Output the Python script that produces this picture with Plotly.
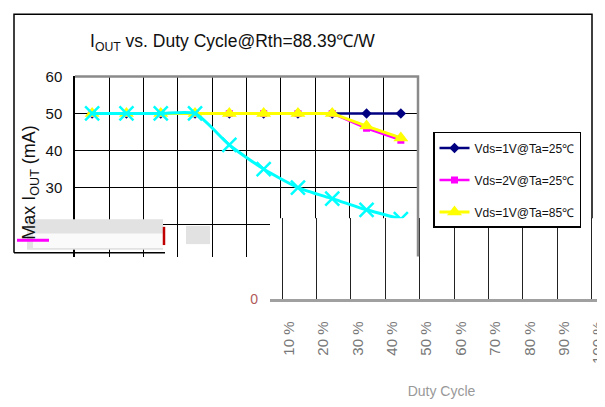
import plotly.graph_objects as go

W, H = 605, 407
OFF = 8  # page body margin offset

# ---- data ----
duty = ["10 %", "20 %", "30 %", "40 %", "50 %", "60 %", "70 %", "80 %", "90 %", "100 %"]
vds1_25 = [50, 50, 50, 50, 50, 50, 50, 50, 50, 50]
vds2_25 = [50, 50, 50, 50, 50, 50, 50, 50, 46.0, 42.8]
vds1_85 = [50, 50, 50, 50, 50, 50, 50, 50, 46.6, 43.4]
vds2_85 = [50, 50, 50, 50, 41.5, 35.0, 30.0, 27.0, 24.0, 21.5]
names = ["Vds=1V@Ta=25℃", "Vds=2V@Ta=25℃", "Vds=1V@Ta=85℃", "Vds=2V@Ta=85℃"]
y_ticks = [20, 30, 40, 50, 60]

idx = list(range(len(duty)))

def px(x):
    return (x - OFF) / W

def py(y):
    return (H - (y - OFF)) / H

SANS = "Liberation Sans, Arial, sans-serif"
UNIT = (302 - 70) / 60  # px per mA

fig = go.Figure()

fig.add_trace(go.Scatter(x=idx, y=vds1_25, name=names[0], mode="lines+markers",
                         line=dict(color="#000080", width=2.5),
                         marker=dict(symbol="diamond", size=8, color="#000080"),
                         legendgroup="a"))
fig.add_trace(go.Scatter(x=idx, y=vds2_25, name=names[1], mode="lines+markers",
                         line=dict(color="#FF00FF", width=2.5),
                         marker=dict(symbol="square", size=7, color="#FF00FF"),
                         legendgroup="b"))
fig.add_trace(go.Scatter(x=idx, y=vds1_85, name=names[2], mode="lines+markers",
                         line=dict(color="#FFFF00", width=3),
                         marker=dict(symbol="triangle-up", size=13, color="#FFFF00"),
                         legendgroup="c"))
fig.add_trace(go.Scatter(x=idx, y=vds2_85, name=names[3], mode="lines+markers",
                         line=dict(color="#00FFFF", width=3, shape="spline", smoothing=0.6),
                         marker=dict(symbol="x-thin", size=14, color="#00FFFF",
                                     line=dict(color="#00FFFF", width=2.5)),
                         legendgroup="d", showlegend=False))
# lower (displaced) axis strip
fig.add_trace(go.Scatter(x=idx, y=[None] * len(idx), xaxis="x2", yaxis="y2",
                         showlegend=False, hoverinfo="skip"))

fig.update_layout(
    width=W, height=H, autosize=False,
    margin=dict(l=0, r=0, t=0, b=0),
    paper_bgcolor="white", plot_bgcolor="white",
    xaxis=dict(domain=[px(75), px(418)], range=[-0.5, 9.5],
               tickmode="array", tickvals=[i + 0.5 for i in idx[:-1]],
               showticklabels=False, showgrid=True, gridcolor="black", gridwidth=1.3,
               zeroline=False, showline=False, anchor="y"),
    yaxis=dict(domain=[py(258), py(70)], range=[60 - (258 - 70) / UNIT, 60],
               tickmode="array", tickvals=y_ticks,
               showgrid=True, gridcolor="black", gridwidth=1.3, zeroline=False,
               showline=True, linecolor="black", linewidth=1.5,
               tickfont=dict(family=SANS, size=15, color="#111"),
               ticklabelstandoff=8, anchor="x"),
    xaxis2=dict(domain=[px(270), 1.0],
                range=[-(289 - 270) / 34.4, (W + OFF - 289) / 34.4],
                tickmode="array", tickvals=idx, ticktext=duty, tickangle=-90,
                tickfont=dict(family=SANS, size=15, color="#777"),
                ticklabelstandoff=14,
                showgrid=False, zeroline=False,
                showline=True, linecolor="#a0a0a0", linewidth=2.5,
                minor=dict(tickmode="array", tickvals=[i - 0.2 for i in idx],
                           showgrid=True, gridcolor="#222", gridwidth=1.3),
                title=dict(text="Duty Cycle", font=dict(family=SANS, size=14, color="#999"),
                           standoff=24),
                anchor="y2"),
    yaxis2=dict(domain=[py(302), py(218)], range=[0, (302 - 218) / UNIT],
                tickmode="array", tickvals=[0], ticktext=["0"],
                tickfont=dict(family=SANS, size=14, color="#b05a5a"),
                showgrid=False, zeroline=False, showline=False,
                ticklabelstandoff=11, anchor="x2"),
    legend=dict(x=px(433), y=py(128), xanchor="left", yanchor="top",
                bgcolor="white", bordercolor="black", borderwidth=1.5,
                font=dict(family=SANS, size=12, color="#111"),
                tracegroupgap=13, itemwidth=30),
    showlegend=True,
)

# title and y-axis title
fig.add_annotation(x=px(88), y=py(35), xref="paper", yref="paper",
                   xanchor="left", yanchor="middle", showarrow=False,
                   text="I<sub>OUT</sub> vs. Duty Cycle@Rth=88.39℃/W",
                   font=dict(family=SANS, size=17.5, color="#111"))
fig.add_annotation(x=px(31), y=py(181), xref="paper", yref="paper",
                   xanchor="center", yanchor="middle", showarrow=False, textangle=-90,
                   text="Max I<sub>OUT</sub> (mA)",
                   font=dict(family=SANS, size=18, color="#111"))

# plot-area border (top and right, grey)
fig.add_shape(type="path", xref="paper", yref="paper", layer="above",
              path=f"M {px(75)},{py(70)} L {px(418)},{py(70)} L {px(418)},{py(258)}",
              line=dict(color="#8a8a8a", width=2.5))
# outer chart frame
fig.add_shape(type="path", xref="paper", yref="paper", layer="above",
              path=f"M {px(14)},{py(254)} L {px(14)},{py(5)} L {px(592)},{py(5)} L {px(592)},{py(218)}",
              line=dict(color="black", width=1.5))
fig.add_shape(type="line", xref="paper", yref="paper", layer="above",
              x0=px(14), x1=px(165), y0=py(254), y1=py(254),
              line=dict(color="black", width=1.5))
# damaged band of the source picture
fig.add_shape(type="rect", xref="paper", yref="paper", layer="above",
              x0=px(27), x1=px(163), y0=py(251), y1=py(219),
              fillcolor="#e2e2e2", line=dict(width=0))
fig.add_shape(type="rect", xref="paper", yref="paper", layer="above",
              x0=px(33), x1=px(163), y0=py(249), y1=py(234),
              fillcolor="#fafafa", line=dict(width=0))
fig.add_shape(type="rect", xref="paper", yref="paper", layer="above",
              x0=px(186), x1=px(210), y0=py(245), y1=py(226),
              fillcolor="#e2e2e2", line=dict(width=0))
fig.add_shape(type="line", xref="paper", yref="paper", layer="above",
              x0=px(164), x1=px(164), y0=py(246), y1=py(227),
              line=dict(color="#c00000", width=2.5))
fig.add_shape(type="line", xref="paper", yref="paper", layer="above",
              x0=px(17), x1=px(49), y0=py(241), y1=py(241),
              line=dict(color="#FF00FF", width=3))

fig.write_html("out.html")
